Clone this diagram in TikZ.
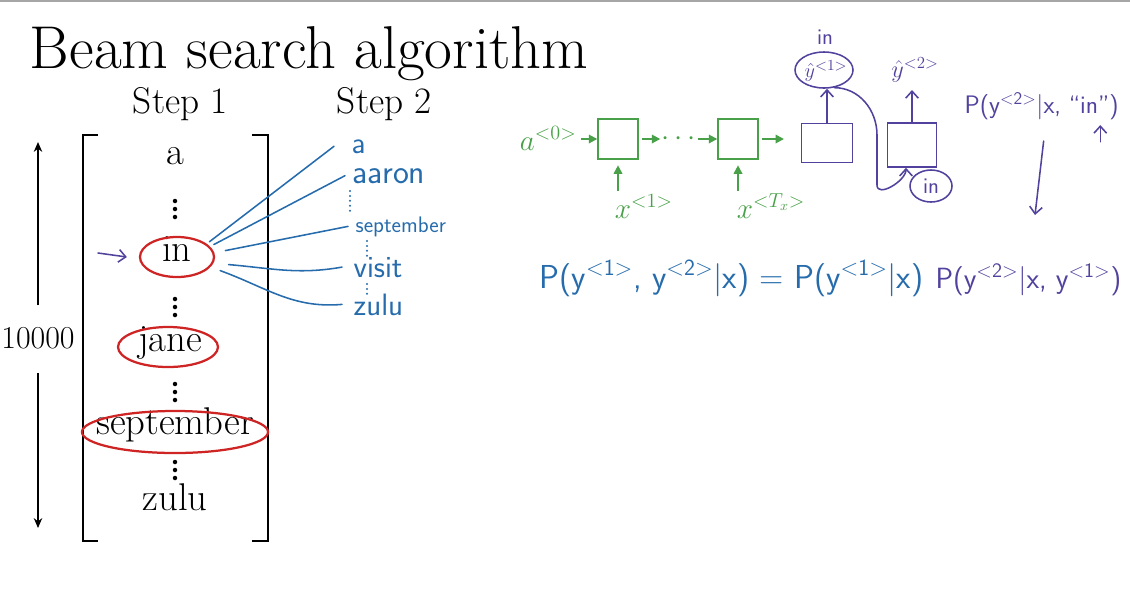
\documentclass[tikz,border=0pt]{standalone}
\usetikzlibrary{shapes.geometric,arrows.meta,positioning}
\definecolor{rnngreen}{RGB}{72,160,72}
\definecolor{penblue}{RGB}{38,108,172}
\definecolor{penpurple}{RGB}{82,66,158}
\definecolor{ringred}{RGB}{206,36,36}
\tikzset{
  word/.style={font=\fontsize{27.5}{32}\selectfont, text height=0.75em, text depth=0.2em, inner sep=0pt},
  ring/.style={ellipse, draw=ringred, line width=1.6pt, inner sep=0pt},
  hand/.style={font=\sffamily\fontsize{22}{26}\selectfont, anchor=base west, inner sep=1pt},
  ink/.style={penblue, line width=1.1pt, line cap=round},
  pen/.style={penpurple, line width=1.1pt, line cap=round},
  parr/.style={pen, -{Straight Barb[length=5pt,width=9pt]}},
  garr/.style={rnngreen, line width=1.3pt, -{Triangle[length=6pt,width=6pt]}},
  cell/.style={draw=rnngreen, line width=1pt, minimum width=1cm, minimum height=1cm},
  pcell/.style={draw=penpurple, line width=1.1pt},
  bullets/.style={line cap=round, dash pattern=on 0pt off 3.5pt, line width=1.6pt},
}
\begin{document}
\begin{tikzpicture}[x=0.025cm,y=-0.025cm]
\useasboundingbox (0,0) rectangle (1130,608);
\fill[black!35] (0,0) rectangle (1130,2);
\def\col{175}

\node[anchor=base west, font=\fontsize{43}{48}\selectfont] (title) at (25,68) {Beam search algorithm};
\node[anchor=base west, font=\fontsize{26.5}{30}\selectfont] (step1) at (128,113) {Step 1};
\node[anchor=base west, font=\fontsize{26.5}{30}\selectfont] (step2) at (332,113) {Step 2};

% vocabulary
\draw[line width=1pt] (98,135) -- (83,135) -- (83,541) -- (98,541);
\draw[line width=1pt] (252,135) -- (268,135) -- (268,541) -- (252,541);
\node[word] (a) at (\col,161) {a};
\node[word] (in) at (177,258) {in};
\node[word] (jane) at (170,348) {jane};
\node[word] (sept) at (\col,431) {september};
\node[word] (zulu) at (\col,507) {zulu};
\foreach \y in {209,307,392,470}
  \foreach \d in {-8,0,8}
    \fill (\col,\y+\d) circle (1.6pt);
\node[ring, minimum width=1.85cm, minimum height=1cm] (inring) at (177,257) {};
\node[ring, minimum width=2.5cm, minimum height=1cm] (janering) at (168,347) {};
\node[ring, minimum width=4.65cm, minimum height=1.05cm] (septring) at (175,432) {};

% vocabulary size
\node[font=\fontsize{22.7}{26}\selectfont] (count) at (38,338) {10000};
\coordinate (top) at (38,142);
\coordinate (bot) at (38,528);
\draw[line width=1pt, -{Stealth[length=7pt,width=6pt]}] ([yshift=0.42cm]count.north) -- (top);
\draw[line width=1pt, -{Stealth[length=7pt,width=6pt]}] ([yshift=-0.48cm]count.south) -- (bot);

% step 2
\node[hand, text=penblue] (wa) at (350,153) {a};
\node[hand, text=penblue, font=\sffamily\fontsize{24}{28}\selectfont] (waaron) at (351,183) {aaron};
\node[hand, text=penblue, font=\sffamily\fontsize{16}{20}\selectfont] (wsept) at (354,232) {september};
\node[hand, text=penblue] (wvisit) at (352,277) {visit};
\node[hand, text=penblue] (wzulu) at (352,315) {zulu};
\draw[ink] ([xshift=0.15cm]inring.30) -- ([xshift=-0.4cm]wa.west);
\draw[ink] ([xshift=0.15cm]inring.22) -- ([xshift=-0.15cm]waaron.west);
\draw[ink] ([xshift=0.3cm]inring.10) -- ([xshift=-0.15cm]wsept.west);
\draw[ink] ([xshift=0.4cm]inring.-12) to[out=-5,in=190] ([xshift=-0.25cm]wvisit.west);
\draw[ink] ([xshift=0.35cm]inring.-25) to[out=-20,in=185] ([xshift=-0.25cm]wzulu.west);
\draw[ink, bullets] (350,191) -- (350,212);
\draw[ink, bullets] (367,241) -- (367,258);
\draw[ink, bullets] (367,284) -- (367,296);
\coordinate (ptr) at (98,253);
\draw[parr] (ptr) -- ([xshift=-0.3cm]inring.west);

% encoder
\node[text=rnngreen, anchor=base west, font=\fontsize{20}{24}\selectfont] (a0) at (515,150) {$a^{<0>}$};
\node[cell] (c1) at (618,139) {};
\node[text=rnngreen, inner sep=1pt, font=\fontsize{20}{24}\selectfont] (gdots) at (679,139) {$\cdots$};
\node[cell] (c2) at (738,139) {};
\coordinate (gout) at (784,139);
\draw[garr] (a0.east |- c1) -- (c1.west);
\draw[garr, shorten <=2pt] (c1) -- (gdots);
\draw[garr] (gdots) -- (c2);
\draw[garr, shorten <=2pt] (c2) -- (gout);
\node[text=rnngreen, anchor=base west, font=\fontsize{20}{24}\selectfont] (x1) at (610,218) {$x^{<1>}$};
\node[text=rnngreen, anchor=base west, font=\fontsize{20}{24}\selectfont] (xT) at (732,218) {$x^{<T_x>}$};
\draw[garr] ([yshift=-0.78cm]c1.south) -- ([yshift=-0.14cm]c1.south);
\draw[garr] ([yshift=-0.78cm]c2.south) -- ([yshift=-0.14cm]c2.south);

% decoder
\node[pcell, minimum width=1.275cm, minimum height=0.975cm] (d1) at (827,143) {};
\node[pcell, minimum width=1.225cm, minimum height=1.1cm] (d2) at (912,145) {};
\node[ellipse, draw=penpurple, line width=1.1pt, minimum width=1.45cm, minimum height=0.9cm, inner sep=0pt] (yring) at (824,70) {};
\node[text=penpurple, font=\fontsize{15}{18}\selectfont] (yhat1) at (826,71) {$\hat{y}^{<1>}$};
\node[hand, text=penpurple, anchor=center, font=\sffamily\fontsize{16}{18}\selectfont] (in1) at (825,37) {in};
\node[text=penpurple, font=\fontsize{17}{20}\selectfont] (yhat2) at (915,70) {$\hat{y}^{<2>}$};
\draw[parr] (d1.north) -- (d1.north |- yring.south);
\draw[parr, shorten >=2pt] (d2.north) -- (d2.north |- yhat2.south);
\node[ellipse, draw=penpurple, line width=1.1pt, minimum width=1.05cm, minimum height=0.8cm, inner sep=0pt, text=penpurple, font=\sffamily\fontsize{16}{18}\selectfont] (in2) at (931,186) {in};
\draw[parr] (yring.300) to[out=0,in=90] (877,135) -- (877,185) to[out=-90,in=-90] ([xshift=-0.15cm]d2.south);

% conditional
\node[hand, text=penpurple, font=\sffamily\fontsize{18}{22}\selectfont] (cond) at (963,113) {P(y\textsuperscript{<2>}|x, ``in'')};
\draw[parr] ([xshift=-0.5cm,yshift=-0.52cm]cond.south east) -- ([xshift=-0.5cm,yshift=-0.1cm]cond.south east);
\coordinate (down) at (1035,215);
\draw[parr] ([xshift=0.05cm,yshift=-0.5cm]cond.south) -- (down);

% chain rule
\node[hand, text=penblue, font=\sffamily\fontsize{23.6}{28}\selectfont] (eq1) at (538,288) {P(y\textsuperscript{<1>}, y\textsuperscript{<2>}|x) = P(y\textsuperscript{<1>}|x)};
\node[hand, text=penpurple, font=\sffamily\fontsize{20.8}{25}\selectfont] (eq2) at ([xshift=0.22cm]eq1.base east) {P(y\textsuperscript{<2>}|x, y\textsuperscript{<1>})};

\end{tikzpicture}
\end{document}
